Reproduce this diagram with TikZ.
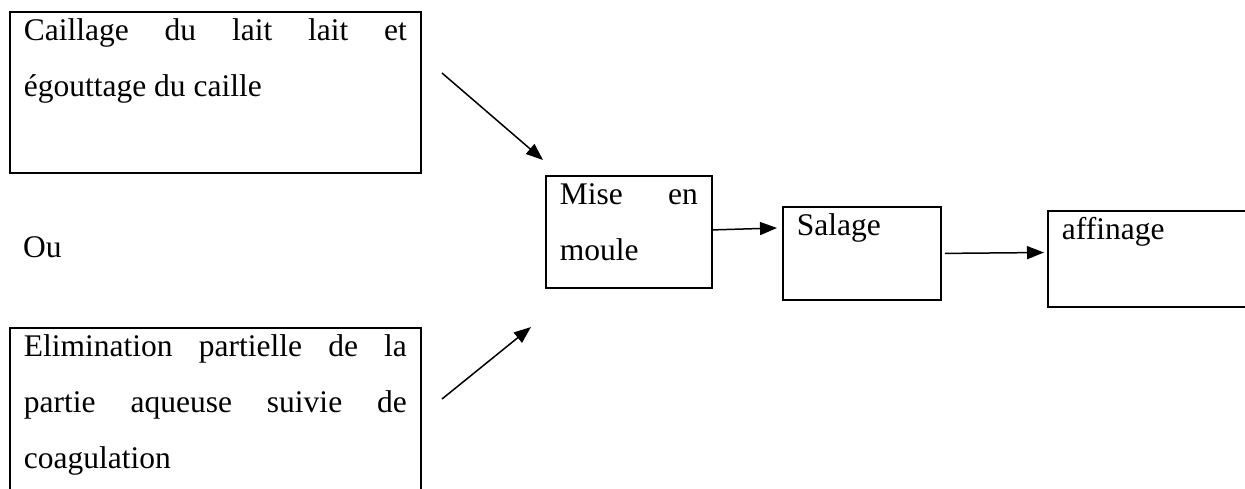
\documentclass[tikz,border=0pt]{standalone}
\usepackage{fontspec}
\setmainfont{Liberation Serif}
\usetikzlibrary{arrows.meta}
% text block of a fixed size, first baseline 29pt below its top
\newcommand\boxtext[3]{\parbox[t][#2][t]{#1}{\rule{0pt}{29pt}#3}}
\begin{document}
\begin{tikzpicture}[x=1pt,y=-1pt,
  stepbox/.style={draw, line width=1.8pt, inner xsep=14pt, inner ysep=0pt,
    anchor=north west, font=\fontsize{31.5}{56}\selectfont},
  arr/.style={line width=1.5pt, -{Triangle[length=17pt,width=13pt]}}]
\useasboundingbox (0,0) rectangle (1245,488);
\clip (0,0) rectangle (1245,488);

% the two alternative first steps
\node[stepbox] (cail) at (9,11)
  {\boxtext{383pt}{161pt}{Caillage\hfill du\hfill lait\hfill lait\hfill et\\égouttage du caille}};
\node[stepbox] (elim) at (9,327)
  {\boxtext{383pt}{180pt}{Elimination\hfill partielle\hfill de\hfill la\\partie\hfill aqueuse\hfill suivie\hfill de\\coagulation}};
\node[anchor=base west, inner sep=0pt, font=\fontsize{31.5}{56}\selectfont] (ou) at (23,257) {Ou};

% the following steps
\node[stepbox] (mise) at (545,175)
  {\boxtext{138pt}{112pt}{Mise\hfill en\\moule}};
\node[stepbox] (salage) at (782,206)
  {\boxtext{130pt}{93pt}{Salage}};
\node[stepbox] (affinage) at (1047,210)
  {\boxtext{192pt}{96pt}{affinage}};

% connectors
\coordinate (a1s) at (442,73);
\coordinate (a1e) at (543,160);
\coordinate (a2s) at (442,399);
\coordinate (a2e) at (531,327);
\coordinate (a3e) at (777,228);
\coordinate (a4e) at (1044,252.5);
\draw[arr] (a1s) -- (a1e);
\draw[arr] (a2s) -- (a2e);
\draw[arr] ([yshift=2pt]mise.east) -- (a3e);
\draw[arr] ([xshift=3pt]salage.east) -- (a4e);
\end{tikzpicture}
\end{document}
